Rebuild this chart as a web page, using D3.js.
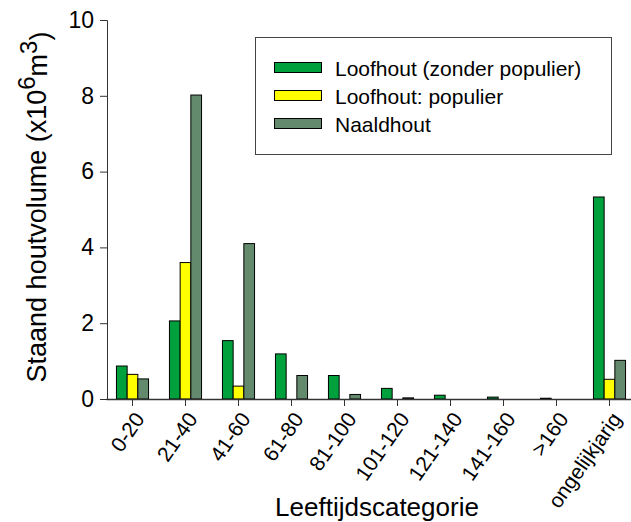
<!DOCTYPE html>
<html>
<head>
<meta charset="utf-8">
<title>Staand houtvolume per leeftijdscategorie</title>
<script src="https://d3js.org/d3.v7.min.js"></script>
<style>
  body { margin: 0; background: #fff; }
  text { font-family: "Liberation Sans", Arial, sans-serif; fill: #000; }
</style>
</head>
<body>
<svg width="631" height="522"></svg>
<script>
// data
var categories = ["0-20", "21-40", "41-60", "61-80", "81-100", "101-120", "121-140", "141-160", ">160", "ongelijkjarig"];
var seriesNames = ["Loofhout (zonder populier)", "Loofhout: populier", "Naaldhout"];
var loofhout  = [0.87, 2.06, 1.54, 1.19, 0.62, 0.28, 0.10, 0.05, 0.02, 5.33];
var populier  = [0.65, 3.60, 0.34, 0, 0, 0, 0, 0, 0, 0.52];
var naaldhout = [0.53, 8.02, 4.10, 0.62, 0.12, 0.03, 0, 0, 0, 1.02];
var yTicks = [0, 2, 4, 6, 8, 10];
var colors = ["#00a03c", "#ffff00", "#648a6e"];

var series = [loofhout, populier, naaldhout];

var svg = d3.select("svg");

var x = d3.scaleBand().domain(categories).range([106, 636]);
var y = d3.scaleLinear().domain([0, 10]).range([399, 20]);
var barW = 10.7;

// bars
series.forEach(function (vals, s) {
    svg.append("g").selectAll("rect")
        .data(vals.map(function (v, i) { return { cat: categories[i], v: v }; }).filter(function (d) { return d.v > 0; }))
        .enter().append("rect")
        .attr("x", function (d) { return x(d.cat) + x.bandwidth() / 2 - 1.5 * barW + s * barW; })
        .attr("y", function (d) { return y(d.v); })
        .attr("width", barW)
        .attr("height", function (d) { return y(0) - y(d.v); })
        .attr("fill", colors[s])
        .attr("stroke", "#000")
        .attr("stroke-width", 1);
});

// y axis
var yAxis = svg.append("g")
    .attr("transform", "translate(107,0)")
    .call(d3.axisLeft(y).tickValues(yTicks).tickSize(7).tickPadding(6).tickFormat(d3.format("d")));
yAxis.select(".domain").attr("stroke", "#333");
yAxis.selectAll(".tick line").attr("stroke", "#333");
yAxis.selectAll("text").style("font-size", "23px");

// x axis
var xAxis = svg.append("g")
    .attr("transform", "translate(0,399)")
    .call(d3.axisBottom(x).tickSize(7).tickSizeOuter(0));
xAxis.select(".domain").attr("stroke", "#333").attr("stroke-width", 1.5);
xAxis.selectAll(".tick line").attr("stroke", "#333");
xAxis.selectAll("text")
    .style("font-size", "21px")
    .attr("text-anchor", "end")
    .attr("x", 0)
    .attr("y", 0)
    .attr("dy", 0)
    .attr("transform", "translate(13,20) rotate(-55)");

// axis titles
svg.append("text")
    .attr("x", 377).attr("y", 516)
    .attr("text-anchor", "middle")
    .style("font-size", "26px")
    .text("Leeftijdscategorie");

var yt = svg.append("text")
    .attr("transform", "translate(46,207) rotate(-90)")
    .attr("text-anchor", "middle")
    .style("font-size", "27px");
yt.append("tspan").text("Staand houtvolume (x10");
yt.append("tspan").attr("dy", "-0.45em").style("font-size", "24px").text("6");
yt.append("tspan").attr("dy", "0.45em").text("m");
yt.append("tspan").attr("dy", "-0.45em").style("font-size", "24px").text("3");
yt.append("tspan").attr("dy", "0.45em").text(")");

// legend
var legend = svg.append("g");
legend.append("rect")
    .attr("x", 255.5).attr("y", 37.5)
    .attr("width", 356).attr("height", 117)
    .attr("fill", "#fff").attr("stroke", "#444");
seriesNames.forEach(function (name, i) {
    var ly = 68 + i * 28;
    legend.append("rect")
        .attr("x", 274.5).attr("y", ly - 5.5)
        .attr("width", 47).attr("height", 10)
        .attr("fill", colors[i]).attr("stroke", "#000");
    legend.append("text")
        .attr("x", 335).attr("y", ly + 8)
        .style("font-size", "21px")
        .text(name);
});
</script>
</body>
</html>
